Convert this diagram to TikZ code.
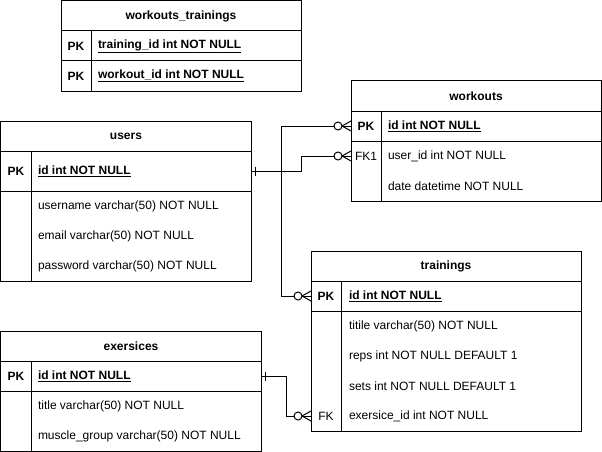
\documentclass[tikz,border=0pt]{standalone}
\usepackage{fontspec}
\setmainfont{Liberation Sans}
\usetikzlibrary{positioning}

\begin{document}
\begin{tikzpicture}[
        x=1pt, y=-1pt,
        line width=1pt,
        every node/.style={inner sep=0pt, outer sep=0pt, font=\fontsize{12}{14}\selectfont},
        head/.style={draw, minimum height=30pt, font=\fontsize{12}{14}\selectfont\bfseries},
        part/.style={draw},
        key/.style={minimum width=30pt, minimum height=30pt},
        pkey/.style={key, font=\fontsize{12}{14}\selectfont\bfseries},
        field/.style={anchor=west},
        pfield/.style={field, font=\fontsize{12}{14}\selectfont\bfseries},
        onemark/.pic={
            \draw (4,-4.5) -- (4,4.5);
        },
        manymark/.pic={
            \draw[fill=white] (-13,0) circle[radius=4pt];
            \draw (-9,0) -- (0,-5) (-9,0) -- (0,5);
        }
    ]
    \useasboundingbox (-1,-1) rectangle (601,451);

    % workouts_trainings
    \node[head, minimum width=240pt] (wt) at (180,15) {workouts\_trainings};
    \node[part, minimum width=240pt, minimum height=30pt, below=0pt of wt] (wt-r1) {};
    \node[part, minimum width=240pt, minimum height=30pt, below=0pt of wt-r1] (wt-r2) {};
    \draw ([xshift=30pt]wt-r1.north west) -- ([xshift=30pt]wt-r2.south west);
    \node[pkey, right=0pt of wt-r1.west] (wt-k1) {PK};
    \node[pkey, right=0pt of wt-r2.west] (wt-k2) {PK};
    \node[pfield] (wt-training) at ([xshift=37pt]wt-r1.west) {\underline{training\_id int NOT NULL}};
    \node[pfield] (wt-workout) at ([xshift=37pt]wt-r2.west) {\underline{workout\_id int NOT NULL}};

    % users
    \node[head, minimum width=250pt] (users) at (125,135) {users};
    \node[part, minimum width=250pt, minimum height=40pt, below=0pt of users] (users-pk) {};
    \node[part, minimum width=250pt, minimum height=90pt, below=0pt of users-pk] (users-body) {};
    \draw ([xshift=30pt]users-pk.north west) -- ([xshift=30pt]users-body.south west);
    \node[pkey, right=0pt of users-pk.west] (u-pk) {PK};
    \node[pfield] (u-id) at ([xshift=37pt]users-pk.west) {\underline{id int NOT NULL}};
    \node[field] (u-name) at ([shift={(37,15)}]users-body.north west) {username varchar(50) NOT NULL};
    \node[field] (u-mail) at ([shift={(37,45)}]users-body.north west) {email varchar(50) NOT NULL};
    \node[field] (u-pass) at ([shift={(37,75)}]users-body.north west) {password varchar(50) NOT NULL};

    % workouts
    \node[head, minimum width=250pt] (workouts) at (475,95) {workouts};
    \node[part, minimum width=250pt, minimum height=30pt, below=0pt of workouts] (workouts-pk) {};
    \node[part, minimum width=250pt, minimum height=60pt, below=0pt of workouts-pk] (workouts-body) {};
    \draw ([xshift=30pt]workouts-pk.north west) -- ([xshift=30pt]workouts-body.south west);
    \node[pkey, right=0pt of workouts-pk.west] (w-pk) {PK};
    \node[key] (w-fk1) at ([shift={(15,15)}]workouts-body.north west) {FK1};
    \node[pfield] (w-id) at ([xshift=37pt]workouts-pk.west) {\underline{id int NOT NULL}};
    \node[field] (w-user) at ([shift={(37,15)}]workouts-body.north west) {user\_id int NOT NULL};
    \node[field] (w-date) at ([shift={(37,45)}]workouts-body.north west) {date datetime NOT NULL};

    % trainings
    \node[head, minimum width=270pt] (trainings) at (445,265) {trainings};
    \node[part, minimum width=270pt, minimum height=30pt, below=0pt of trainings] (trainings-pk) {};
    \node[part, minimum width=270pt, minimum height=120pt, below=0pt of trainings-pk] (trainings-body) {};
    \draw ([xshift=30pt]trainings-pk.north west) -- ([xshift=30pt]trainings-body.south west);
    \node[pkey, right=0pt of trainings-pk.west] (t-pk) {PK};
    \node[key] (t-fk) at ([shift={(15,105)}]trainings-body.north west) {FK};
    \node[pfield] (t-id) at ([xshift=38pt]trainings-pk.west) {\underline{id int NOT NULL}};
    \node[field] (t-title) at ([shift={(38,15)}]trainings-body.north west) {titile varchar(50) NOT NULL};
    \node[field] (t-reps) at ([shift={(38,45)}]trainings-body.north west) {reps int NOT NULL DEFAULT 1};
    \node[field] (t-sets) at ([shift={(38,75)}]trainings-body.north west) {sets int NOT NULL DEFAULT 1};
    \node[field] (t-ex) at ([shift={(38,105)}]trainings-body.north west) {exersice\_id int NOT NULL};

    % exersices
    \node[head, minimum width=260pt] (exersices) at (130,345) {exersices};
    \node[part, minimum width=260pt, minimum height=30pt, below=0pt of exersices] (exersices-pk) {};
    \node[part, minimum width=260pt, minimum height=60pt, below=0pt of exersices-pk] (exersices-body) {};
    \draw ([xshift=30pt]exersices-pk.north west) -- ([xshift=30pt]exersices-body.south west);
    \node[pkey, right=0pt of exersices-pk.west] (e-pk) {PK};
    \node[pfield] (e-id) at ([xshift=37pt]exersices-pk.west) {\underline{id int NOT NULL}};
    \node[field] (e-title) at ([shift={(37,15)}]exersices-body.north west) {title varchar(50) NOT NULL};
    \node[field] (e-group) at ([shift={(37,45)}]exersices-body.north west) {muscle\_group varchar(50) NOT NULL};

    % relations
    \draw (users-pk.east) -- ++(50,0) |- (w-fk1.west);
    \draw (workouts-pk.west) -- ++(-70,0) |- (trainings-pk.west);
    \draw (exersices-pk.east) -- ++(25,0) |- (t-fk.west);
    \pic at (users-pk.east) {onemark};
    \pic at (exersices-pk.east) {onemark};
    \pic at (w-fk1.west) {manymark};
    \pic at (workouts-pk.west) {manymark};
    \pic at (trainings-pk.west) {manymark};
    \pic at (t-fk.west) {manymark};
\end{tikzpicture}
\end{document}
